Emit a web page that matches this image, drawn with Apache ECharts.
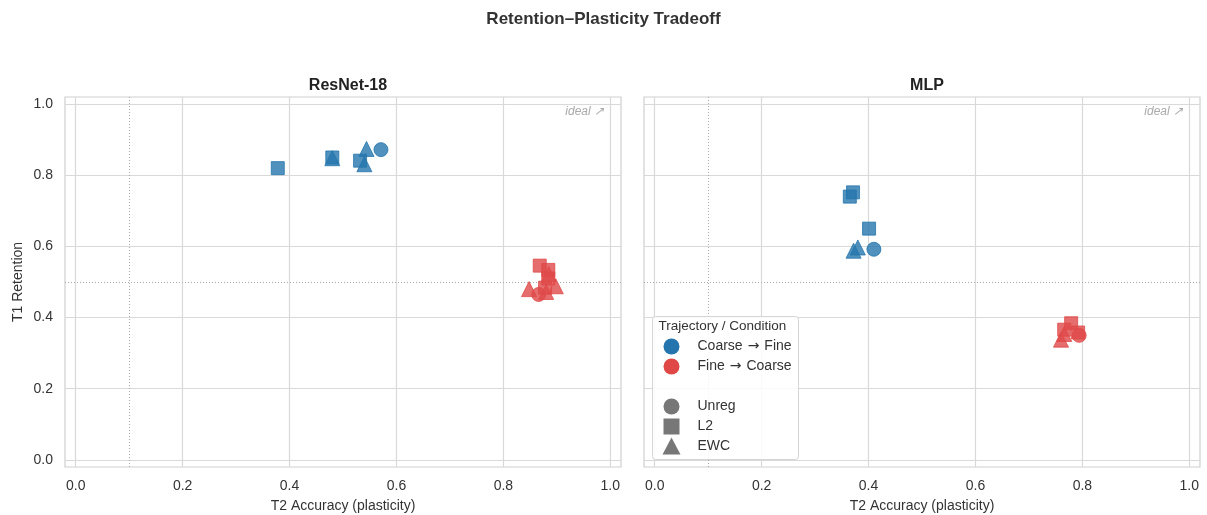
<!DOCTYPE html>
<html>
<head>
    <meta charset="utf-8">
    <title>Retention-Plasticity Tradeoff</title>
    <script src="https://cdn.jsdelivr.net/npm/echarts@6/dist/echarts.min.js"></script>
    <style>
        body { margin: 0; background: #fff; }
        #chart { width: 1207px; height: 515px; }
    </style>
</head>
<body>
    <div id="chart"></div>
    <script type="text/javascript">
        // [T2 accuracy, T1 retention] per model / trajectory / condition
        var resnet_cf_unreg = [[0.571, 0.872]];
        var resnet_cf_l2 = [[0.378, 0.820], [0.480, 0.850], [0.532, 0.841]];
        var resnet_cf_ewc = [[0.480, 0.848], [0.540, 0.831], [0.544, 0.874]];
        var resnet_fc_unreg = [[0.866, 0.465]];
        var resnet_fc_l2 = [[0.868, 0.546], [0.884, 0.534], [0.878, 0.484], [0.884, 0.510]];
        var resnet_fc_ewc = [[0.848, 0.480], [0.885, 0.522], [0.880, 0.472], [0.898, 0.488]];

        var mlp_cf_unreg = [[0.410, 0.592]];
        var mlp_cf_l2 = [[0.371, 0.752], [0.365, 0.740], [0.401, 0.650]];
        var mlp_cf_ewc = [[0.372, 0.588], [0.380, 0.597]];
        var mlp_fc_unreg = [[0.794, 0.350]];
        var mlp_fc_l2 = [[0.779, 0.384], [0.792, 0.358], [0.766, 0.366]];
        var mlp_fc_ewc = [[0.760, 0.338], [0.766, 0.354]];

        var chance_x = 0.1;
        var half_y = 0.5;
        var axis_ticks = [0.0, 0.2, 0.4, 0.6, 0.8, 1.0];
        var panel_titles = ['ResNet-18', 'MLP'];

        var blue = '#2475ad';
        var red = '#e04848';
        var font = '"Liberation Sans", Arial, sans-serif';

        var chart = echarts.init(document.getElementById('chart'), null, { renderer: 'canvas' });

        function axisCommon(idx, showLabel) {
            return {
                gridIndex: idx, type: 'value', min: -0.02, max: 1.02,
                axisLine: { show: false }, axisTick: { show: false },
                splitLine: { show: false },
                axisLabel: {
                    show: showLabel, color: '#333', fontSize: 14, fontFamily: font,
                    margin: 12,
                    customValues: axis_ticks,
                    formatter: function (v) { return v.toFixed(1); }
                }
            };
        }

        function gridLines(idx) {
            // tick grid lines + reference lines drawn as a helper series
            var lines = [];
            axis_ticks.forEach(function (t) {
                lines.push({ xAxis: t, lineStyle: { color: '#d9d9d9', width: 1.2, type: 'solid' } });
                lines.push({ yAxis: t, lineStyle: { color: '#d9d9d9', width: 1.2, type: 'solid' } });
            });
            lines.push({ xAxis: chance_x, lineStyle: { color: '#aaa', width: 1, type: [1, 2] } });
            lines.push({ yAxis: half_y, lineStyle: { color: '#aaa', width: 1, type: [1, 2] } });
            return {
                type: 'scatter', xAxisIndex: idx, yAxisIndex: idx, data: [], silent: true, z: 1,
                markLine: { symbol: 'none', silent: true, label: { show: false }, data: lines, animation: false }
            };
        }

        function pts(idx, data, color, symbol, size) {
            return {
                type: 'scatter', xAxisIndex: idx, yAxisIndex: idx, data: data,
                symbol: symbol, symbolSize: size, z: 5,
                itemStyle: { color: color, opacity: 0.8, borderColor: color, borderWidth: 1 }
            };
        }

        var series = [gridLines(0), gridLines(1)];
        [[resnet_cf_unreg, resnet_cf_l2, resnet_cf_ewc, resnet_fc_unreg, resnet_fc_l2, resnet_fc_ewc],
         [mlp_cf_unreg, mlp_cf_l2, mlp_cf_ewc, mlp_fc_unreg, mlp_fc_l2, mlp_fc_ewc]].forEach(function (g, i) {
            series.push(pts(i, g[0], blue, 'circle', 14));
            series.push(pts(i, g[1], blue, 'rect', 13));
            series.push(pts(i, g[2], blue, 'triangle', 15));
            series.push(pts(i, g[3], red, 'circle', 14));
            series.push(pts(i, g[4], red, 'rect', 13));
            series.push(pts(i, g[5], red, 'triangle', 15));
        });

        var frame = { show: true, borderColor: '#cfcfcf', borderWidth: 1.2, outerBoundsMode: 'none', containLabel: false };
        var legendX = 652, legendY = 316;
        var legendRows = [
            { y: 30, text: 'Coarse{a|\u2192}Fine', color: blue, shape: 'circle' },
            { y: 50, text: 'Fine{a|\u2192}Coarse', color: red, shape: 'circle' },
            { y: 90, text: 'Unreg', color: '#777', shape: 'circle' },
            { y: 110, text: 'L2', color: '#777', shape: 'rect' },
            { y: 130, text: 'EWC', color: '#777', shape: 'triangle' }
        ];
        var arrowRich = { a: { fontFamily: '"DejaVu Sans"', fontSize: 14, fill: '#333', padding: [0, 5, 0, 5] } };
        var legendChildren = [
            { type: 'rect', z: 100, shape: { x: 0, y: 0, width: 146, height: 143, r: 3 },
              style: { fill: 'rgba(255,255,255,0.85)', stroke: '#d5d5d5', lineWidth: 1 } },
            { type: 'text', z: 101, x: 6, y: 10, style: { text: 'Trajectory / Condition', fill: '#333', font: '13.5px ' + font, textVerticalAlign: 'middle' } }
        ];
        legendRows.forEach(function (r) {
            var icon;
            if (r.shape === 'circle') icon = { type: 'circle', shape: { cx: 19, cy: r.y, r: 8 } };
            else if (r.shape === 'rect') icon = { type: 'rect', shape: { x: 11, y: r.y - 8, width: 16, height: 16 } };
            else icon = { type: 'polygon', shape: { points: [[19, r.y - 9], [28, r.y + 8], [10, r.y + 8]] } };
            icon.style = { fill: r.color };
            icon.z = 101;
            legendChildren.push(icon);
            legendChildren.push({ type: 'text', z: 101, x: 45, y: r.y,
                style: { text: r.text, fill: '#333', font: '14px ' + font, textVerticalAlign: 'middle', rich: arrowRich } });
        });

        var option = {
            backgroundColor: '#fff',
            animation: false,
            title: [
                { text: 'Retention\u2013Plasticity Tradeoff', left: 'center', top: 6,
                  textStyle: { fontSize: 17, fontWeight: 'bold', color: '#333', fontFamily: font } },
                { text: panel_titles[0], left: 343, textAlign: 'center', top: 73,
                  textStyle: { fontSize: 16, fontWeight: 'bold', color: '#222', fontFamily: font } },
                { text: panel_titles[1], left: 922, textAlign: 'center', top: 73,
                  textStyle: { fontSize: 16, fontWeight: 'bold', color: '#222', fontFamily: font } }
            ],
            grid: [
                Object.assign({ left: 65, top: 97, width: 556, height: 370 }, frame),
                Object.assign({ left: 644, top: 97, width: 556, height: 370 }, frame)
            ],
            xAxis: [
                Object.assign(axisCommon(0, true), { name: 'T2 Accuracy (plasticity)', nameLocation: 'middle', nameGap: 32,
                    nameTextStyle: { fontSize: 14, color: '#333', fontFamily: font } }),
                Object.assign(axisCommon(1, true), { name: 'T2 Accuracy (plasticity)', nameLocation: 'middle', nameGap: 32,
                    nameTextStyle: { fontSize: 14, color: '#333', fontFamily: font } })
            ],
            yAxis: [
                Object.assign(axisCommon(0, true), { name: 'T1 Retention', nameLocation: 'middle', nameGap: 40,
                    nameTextStyle: { fontSize: 14, color: '#333', fontFamily: font } }),
                axisCommon(1, false)
            ],
            series: series,
            graphic: [
                { type: 'text', right: 603, top: 106, style: { text: 'ideal \u2197', fill: '#aaa', font: 'italic 12px ' + font } },
                { type: 'text', right: 24, top: 106, style: { text: 'ideal \u2197', fill: '#aaa', font: 'italic 12px ' + font } },
                { type: 'group', left: legendX, top: legendY, z: 100, children: legendChildren }
            ]
        };
        chart.setOption(option);
    </script>
</body>
</html>
